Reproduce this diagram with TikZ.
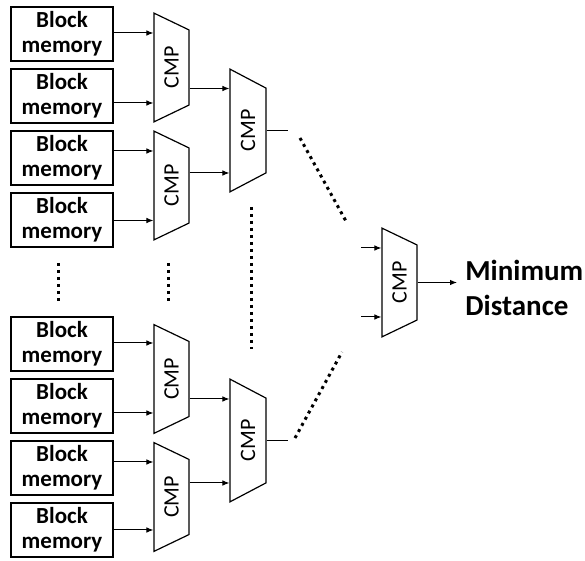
\documentclass[tikz,border=0pt]{standalone}
\usepackage{fontspec}
\setmainfont{Carlito}
\usetikzlibrary{
    shapes.geometric,
    arrows.meta,
    calc
}
\tikzstyle{box} = [
    rectangle, draw,
    line width=1pt,
    minimum width=51pt,
    minimum height=27pt,
    inner sep=0pt,
    align=center,
    font=\bfseries\fontsize{11.5}{12.5}\selectfont
]
\tikzstyle{cmp} = [
    trapezium, draw,
    line width=0.6pt,
    shape border rotate=180,
    rotate=90,
    trapezium left angle=57,
    trapezium right angle=57,
    trapezium stretches=true,
    minimum width=54.5pt,
    minimum height=17.5pt,
    inner sep=0pt,
    font=\fontsize{11}{11}\selectfont
]
\tikzstyle{bigcmp} = [
    cmp,
    minimum width=61.5pt,
    minimum height=18pt
]
\tikzstyle{arrow} = [
    line width=0.5pt,
    -{Latex[length=3.5pt,width=2.8pt]}
]
\tikzstyle{wire} = [
    line width=0.6pt
]
\tikzstyle{dotline} = [
    line width=1.5pt,
    dash pattern=on 1.5pt off 2pt
]

\begin{document}
\begin{tikzpicture}[x=0.5pt, y=0.5pt]
    \useasboundingbox (0,0) rectangle (585,-561);

    % block memories, upper group
    \node[box] (bm1) at (62,-34)  {Block\\memory};
    \node[box] (bm2) at (62,-96)  {Block\\memory};
    \node[box] (bm3) at (62,-158) {Block\\memory};
    \node[box] (bm4) at (62,-220) {Block\\memory};
    % block memories, lower group
    \node[box] (bm5) at (62,-344) {Block\\memory};
    \node[box] (bm6) at (62,-406) {Block\\memory};
    \node[box] (bm7) at (62,-468) {Block\\memory};
    \node[box] (bm8) at (62,-530) {Block\\memory};

    % first comparator stage
    \node[cmp] (c1) at (171.5,-67.5) {CMP};
    \node[cmp] (c2) at (171.5,-185.5) {CMP};
    \node[cmp] (c5) at (171.5,-379) {CMP};
    \node[cmp] (c6) at (171.5,-497) {CMP};
    % second stage
    \node[bigcmp] (c3) at (248,-130.5) {CMP};
    \node[bigcmp] (c7) at (248,-440.5) {CMP};
    % last stage
    \node[cmp] (c8) at (399.5,-282.5) {CMP};

    % input points on the comparators
    \coordinate (c1a) at ($(c1.north)+(0,34.5)$);
    \coordinate (c1b) at ($(c1.north)+(0,-35.5)$);
    \coordinate (c2a) at ($(c2.north)+(0,34.5)$);
    \coordinate (c2b) at ($(c2.north)+(0,-35)$);
    \coordinate (c5a) at ($(c5.north)+(0,36)$);
    \coordinate (c5b) at ($(c5.north)+(0,-34)$);
    \coordinate (c6a) at ($(c6.north)+(0,35)$);
    \coordinate (c6b) at ($(c6.north)+(0,-33)$);
    \coordinate (c3a) at ($(c3.north)+(0,42)$);
    \coordinate (c3b) at ($(c3.north)+(0,-42.5)$);
    \coordinate (c7a) at ($(c7.north)+(0,41.5)$);
    \coordinate (c7b) at ($(c7.north)+(0,-42.5)$);
    \coordinate (c8a) at ($(c8.north)+(0,34.5)$);
    \coordinate (c8b) at ($(c8.north)+(0,-34.5)$);

    % memories into first stage
    \draw[arrow] (bm1.east |- c1a) -- (c1a);
    \draw[arrow] (bm2.east |- c1b) -- (c1b);
    \draw[arrow] (bm3.east |- c2a) -- (c2a);
    \draw[arrow] (bm4.east |- c2b) -- (c2b);
    \draw[arrow] (bm5.east |- c5a) -- (c5a);
    \draw[arrow] (bm6.east |- c5b) -- (c5b);
    \draw[arrow] (bm7.east |- c6a) -- (c6a);
    \draw[arrow] (bm8.east |- c6b) -- (c6b);

    % first stage into second stage
    \draw[arrow] (c1.south |- c3a) -- (c3a);
    \draw[arrow] (c2.south |- c3b) -- (c3b);
    \draw[arrow] (c5.south |- c7a) -- (c7a);
    \draw[arrow] (c6.south |- c7b) -- (c7b);

    % second stage outputs, cut short
    \coordinate (o3) at ($(c3.south)+(21,0)$);
    \coordinate (o7) at ($(c7.south)+(21,0)$);
    \draw[wire] (c3.south) -- (o3);
    \draw[wire] (c7.south) -- (o7);

    % last stage
    \coordinate (i8a) at ($(c8a)+(-20,0)$);
    \coordinate (i8b) at ($(c8b)+(-20,0)$);
    \draw[arrow] (i8a) -- (c8a);
    \draw[arrow] (i8b) -- (c8b);
    \node[anchor=west, inner sep=4pt, align=left,
          font=\bfseries\fontsize{14.5}{17.5}\selectfont]
        (res) at (457,-288) {Minimum\\Distance};
    \draw[arrow] (c8.south) -- (c8.south -| res.west);

    % omitted parts
    \draw[dotline] (58,-263) -- (58,-303);
    \draw[dotline] (168,-263) -- (168,-303);
    \draw[dotline] (251,-207) -- (251,-349);
    \draw[dotline] (300,-138) -- (347,-223);
    \draw[dotline] (295,-438) -- (342,-352);
\end{tikzpicture}
\end{document}
